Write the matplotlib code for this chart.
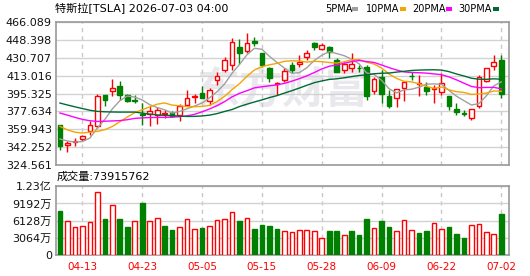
# TSLA daily K-line with moving averages and volume
import matplotlib
matplotlib.use("Agg")
import matplotlib.pyplot as plt
from matplotlib.patches import Rectangle

W, H = 530, 276

# OHLC (60 sessions, 2026-04-08 .. 2026-07-02)
opens = [364.5, 345.0, 348.0, 350.8, 358.0, 362.9, 394.1, 397.3, 402.9, 394.1,
         388.9, 375.5, 375.1, 374.4, 375.6, 376.0, 374.4, 384.2, 391.4, 395.7,
         388.2, 408.8, 418.6, 423.5, 441.5, 437.6, 447.4, 435.0, 420.9, 404.3,
         408.8, 423.5, 424.2, 431.7, 444.8, 439.0, 441.5, 428.4, 418.6, 420.3,
         420.8, 421.9, 397.3, 411.6, 392.4, 390.8, 400.6, 413.0, 405.0, 402.2,
         399.9, 396.7, 393.1, 380.3, 375.8, 371.1, 383.2, 407.8, 422.9, 428.4]
highs = [364.5, 348.2, 351.5, 354.7, 367.8, 395.0, 394.1, 409.5, 407.8, 394.7,
         394.1, 385.9, 382.6, 381.6, 379.3, 378.3, 384.9, 398.9, 394.7, 402.9,
         400.6, 416.4, 431.7, 449.8, 449.1, 454.7, 451.4, 435.0, 421.8, 406.6,
         420.3, 426.8, 433.4, 438.3, 446.4, 444.8, 442.5, 430.1, 426.8, 435.0,
         423.5, 423.5, 412.0, 418.6, 399.0, 399.9, 407.1, 416.4, 413.7, 407.1,
         403.9, 415.4, 393.1, 385.9, 379.3, 380.0, 413.7, 420.9, 433.4, 433.4]
lows = [340.0, 337.7, 343.2, 348.8, 354.7, 361.3, 382.6, 392.4, 389.1, 386.5,
        385.9, 363.8, 362.9, 365.2, 371.0, 371.7, 368.5, 382.6, 385.9, 390.8,
        384.2, 403.9, 417.0, 418.6, 424.2, 435.0, 442.5, 421.8, 407.1, 394.1,
        407.1, 415.4, 421.8, 428.4, 438.3, 438.3, 430.1, 417.0, 415.4, 417.0,
        417.0, 389.1, 395.0, 385.9, 381.0, 381.6, 388.2, 408.8, 392.4, 394.1,
        385.9, 394.1, 379.3, 373.7, 372.7, 369.5, 381.0, 407.1, 418.6, 390.8]
closes = [343.9, 346.3, 348.8, 353.1, 364.6, 393.1, 389.2, 400.6, 393.4, 387.5,
          388.3, 374.6, 377.6, 379.3, 376.0, 372.7, 382.6, 390.8, 393.1, 390.8,
          398.3, 412.7, 428.4, 445.8, 435.0, 445.5, 444.8, 423.5, 411.0, 405.3,
          417.6, 418.6, 426.8, 435.0, 441.5, 443.2, 436.6, 417.0, 424.5, 424.2,
          420.3, 392.4, 409.5, 395.3, 382.6, 399.9, 407.1, 412.7, 405.5, 397.3,
          401.2, 405.5, 382.6, 376.7, 375.4, 380.0, 412.0, 420.9, 426.2, 394.7]

# volume in 万股, colour flag (1 = up / red, 0 = down / green)
volumes = [7930, 6100, 5030, 5210, 5920, 11250, 6335, 8940, 6335, 4915,
           6100, 9355, 6100, 6630, 5090, 4380, 5030, 6450, 4680, 4735,
           5210, 6275, 6450, 7700, 5980, 6630, 4560, 5270, 5090, 4560,
           4320, 4145, 4500, 4500, 4320, 3080, 4320, 4320, 3610, 4320,
           3490, 6335, 4855, 5980, 4915, 4320, 6275, 4500, 3850, 4205,
           5740, 4680, 4915, 3670, 2960, 5270, 5565, 4145, 3790, 7391.5762]
vol_up = [0, 1, 1, 1, 1, 1, 0, 1, 0, 0, 1, 0, 1, 1, 0, 0, 1, 1, 1, 0,
          1, 1, 1, 1, 0, 1, 0, 0, 0, 0, 1, 1, 1, 1, 1, 1, 0, 0, 1, 0,
          0, 0, 1, 0, 0, 1, 1, 1, 0, 0, 1, 1, 0, 0, 0, 1, 1, 1, 1, 0]

ma5 = [350.5, 348.5, 347.5, 348.0, 351.4, 361.2, 369.8, 380.1, 388.2, 392.8,
       391.8, 388.9, 384.3, 381.5, 379.2, 376.0, 377.6, 380.3, 383.0, 386.0,
       391.1, 397.1, 404.7, 415.2, 424.0, 433.5, 439.9, 438.9, 432.0, 426.0,
       420.4, 415.2, 415.9, 420.7, 427.9, 433.0, 436.6, 434.7, 432.6, 429.1,
       424.5, 415.6, 414.1, 408.3, 400.0, 395.9, 398.9, 399.5, 401.6, 404.5,
       404.8, 404.4, 398.4, 392.7, 388.3, 384.0, 385.3, 393.0, 402.9, 406.8]
ma10 = [362.9, 359.5, 357.2, 356.4, 357.2, 358.0, 359.7, 362.8, 367.5, 372.1,
        376.5, 379.3, 382.2, 384.8, 386.0, 383.9, 383.3, 382.3, 382.3, 382.6,
        383.6, 387.4, 392.5, 399.1, 405.0, 412.3, 418.5, 421.8, 423.6, 425.0,
        427.0, 427.6, 427.4, 426.3, 427.0, 426.7, 425.9, 425.3, 426.6, 428.5,
        428.8, 426.1, 424.4, 420.4, 414.5, 410.2, 407.3, 406.8, 404.9, 402.3,
        400.4, 401.7, 399.0, 397.1, 396.4, 394.4, 394.9, 395.7, 397.8, 397.5]
ma20 = [376.1, 374.0, 371.8, 369.8, 368.5, 367.8, 368.0, 368.3, 368.6, 369.5,
        370.8, 371.3, 371.6, 371.8, 371.8, 372.0, 372.5, 373.3, 374.8, 377.3,
        380.1, 383.4, 387.3, 392.0, 395.5, 398.1, 400.9, 402.0, 402.9, 403.8,
        405.3, 407.5, 409.9, 412.7, 416.0, 419.5, 422.2, 423.5, 425.1, 426.8,
        427.9, 426.8, 425.9, 423.4, 420.8, 418.5, 416.6, 416.0, 415.8, 415.4,
        414.6, 413.9, 411.7, 408.8, 405.5, 402.3, 401.1, 401.3, 401.4, 399.9]
ma30 = [385.9, 384.0, 382.2, 380.5, 378.8, 377.7, 377.3, 377.1, 377.0, 377.0,
        377.0, 376.0, 375.0, 374.2, 373.8, 373.5, 373.0, 372.7, 372.8, 373.2,
        374.0, 375.5, 377.6, 379.5, 382.5, 384.8, 387.0, 389.0, 391.3, 393.2,
        395.7, 398.1, 400.7, 403.4, 406.0, 407.7, 409.2, 409.8, 410.8, 412.0,
        413.1, 413.7, 414.8, 415.3, 415.5, 416.4, 417.2, 418.0, 418.4, 418.6,
        418.7, 418.4, 416.9, 414.6, 412.6, 410.4, 409.4, 409.3, 409.8, 409.4]

tick_pos = [3, 11, 19, 27, 35, 43, 51, 59]
tick_labels = ["04-13", "04-23", "05-05", "05-15", "05-28", "06-09", "06-22", "07-02"]
price_ticks = [324.561, 342.252, 359.943, 377.634, 395.325,
               413.016, 430.707, 448.398, 466.089]
vol_ticks = [0, 3064, 6128, 9192, 12256]
vol_labels = ["0", "3064万", "6128万", "9192万", "1.23亿"]

RED = "#ff0000"
GREEN = "#008000"
CJK = ["DejaVu Sans", "Noto Sans CJK SC"]

fig = plt.figure(figsize=(5.3, 2.76), dpi=100)


def box(l, t, r, b):
    return [l / W, 1 - b / H, (r - l) / W, (b - t) / H]


ax = fig.add_axes(box(56, 21.7, 509, 165.3))
axv = fig.add_axes(box(56, 186.3, 509, 255))

x = list(range(len(closes)))

# watermark
ax.text(0.5, 0.52, "东方财富", transform=ax.transAxes, ha="center", va="center",
        fontsize=31, fontweight="bold", color="#e8e8ed", family=["Noto Sans CJK SC"],
        zorder=0.5)

# candles
for i in x:
    up = closes[i] >= opens[i]
    col = RED if up else GREEN
    ax.vlines(i, lows[i], highs[i], color=col, lw=1, zorder=2)
    lo = min(opens[i], closes[i])
    h = max(abs(closes[i] - opens[i]), 0.15)
    ax.bar(i, h, bottom=lo, width=0.62, facecolor="white" if up else GREEN,
           edgecolor=col, lw=1, zorder=3)

ax.plot(x, ma5, color="#a0a0a0", lw=1, zorder=4)
ax.plot(x, ma10, color="#f5a500", lw=1, zorder=4)
ax.plot(x, ma20, color="#ff00ff", lw=1, zorder=4)
ax.plot(x, ma30, color="#006a35", lw=1, zorder=4)

# volume
for i in x:
    col = RED if vol_up[i] else GREEN
    axv.bar(i, volumes[i], width=0.62, facecolor="white" if vol_up[i] else GREEN,
            edgecolor=col, lw=1, zorder=3)

for a in (ax, axv):
    a.set_xlim(-0.53, 60.03)
    a.set_xticks(tick_pos)
    a.set_axisbelow(True)
    a.yaxis.grid(True, color="#d2d2d2", lw=1)
    a.xaxis.grid(True, color="#c8c8c8", lw=1, ls=(0, (3, 3)))
    for s in a.spines.values():
        s.set_color("#9a9a9a")
        s.set_linewidth(1.2)
    a.tick_params(length=0, pad=3, labelsize=8, labelcolor="#111111")

ax.set_ylim(324.561, 466.089)
ax.set_yticks(price_ticks)
ax.set_yticklabels([f"{v:.3f}" for v in price_ticks])
ax.tick_params(axis="x", labelbottom=False)

axv.set_ylim(0, 12256)
axv.set_yticks(vol_ticks)
axv.set_yticklabels(vol_labels, family=CJK)
axv.set_xticklabels(tick_labels, color=RED, fontsize=7.5)
axv.tick_params(axis="x", pad=5)

# header texts
fig.text(55 / W, 1 - 9 / H, "特斯拉[TSLA] 2026-07-03 04:00", family=CJK,
         fontsize=8, va="center", ha="left")
fig.text(57 / W, 1 - 177 / H, "成交量:73915762", family=CJK,
         fontsize=8, va="center", ha="left")

legend = [("5PMA", 325, 351.5, "#a0a0a0"), ("10PMA", 366, 399.5, "#f5a500"),
          ("20PMA", 412.5, 445.5, "#ff00ff"), ("30PMA", 458, 492.5, "#006a35")]
for name, lx, dx, col in legend:
    fig.text(lx / W, 1 - 9 / H, name, fontsize=7, va="center", ha="left")
    fig.add_artist(Rectangle((dx / W, 1 - 10.5 / H), 6 / W, 3 / H,
                             transform=fig.transFigure, color=col, lw=0))

fig.savefig("out.png", dpi=100)
